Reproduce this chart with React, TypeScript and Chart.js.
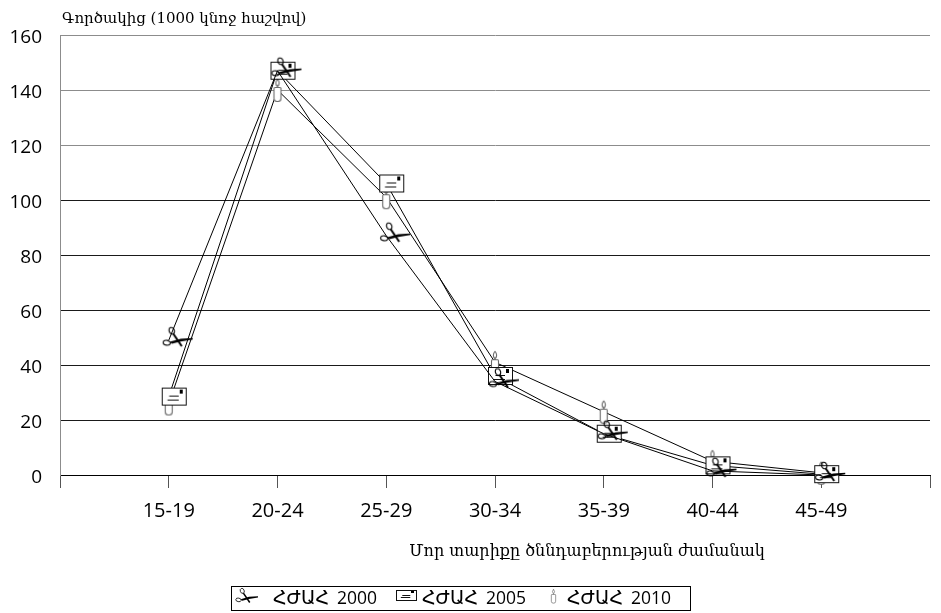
import { useEffect, useRef } from 'react';
import { Chart, registerables } from 'chart.js';

Chart.register(...registerables);

// Fertility rate per 1000 women, by mother's age group
const categories = ['15-19', '20-24', '25-29', '30-34', '35-39', '40-44', '45-49'];
const seriesLabels = ['ՀԺԱՀ 2000', 'ՀԺԱՀ 2005', 'ՀԺԱՀ 2010'];
const rates2000 = [49, 147, 87, 34, 15, 1.5, 0];
const rates2005 = [28.5, 147, 106, 36, 15, 3.5, 0.3];
const rates2010 = [26, 140, 101, 41, 23, 5, 0.8];
const yMin = 0;
const yMax = 160;
const yStep = 20;
const yAxisTitle = 'Գործակից (1000 կնոջ հաշվով)';
const xAxisTitle = 'Մոր տարիքը ծննդաբերության ժամանակ';

const WIDTH = 941;
const HEIGHT = 613;
const SANS = "'Open Sans', 'DejaVu Sans', sans-serif";
const ARM_SANS = "'DejaVu Sans', sans-serif";
const SERIF = "'DejaVu Serif', serif";

type Painter = (ctx: CanvasRenderingContext2D, x: number, y: number, k: number) => void;

// Scissors: pivot at (x, y), finger loops to the left, blades to the right
const drawScissors: Painter = (ctx, x, y, k) => {
  ctx.save();
  ctx.translate(x, y);
  ctx.scale(k, k);
  ctx.strokeStyle = '#000';
  ctx.fillStyle = '#000';
  ctx.lineWidth = 1.1;
  ctx.beginPath();
  ctx.ellipse(3, -9.5, 2.6, 3.4, -0.4, 0, Math.PI * 2);
  ctx.stroke();
  ctx.beginPath();
  ctx.ellipse(-2, 2.5, 3.6, 2.4, 0.2, 0, Math.PI * 2);
  ctx.stroke();
  ctx.beginPath();
  ctx.moveTo(1, 1.5);
  ctx.lineTo(12, -1.6);
  ctx.lineTo(24, -2.2);
  ctx.lineTo(24, -0.8);
  ctx.lineTo(12, 1.3);
  ctx.lineTo(3, 3.6);
  ctx.closePath();
  ctx.fill();
  ctx.lineWidth = 2;
  ctx.beginPath();
  ctx.moveTo(4.5, -6.5);
  ctx.lineTo(13, 6);
  ctx.stroke();
  ctx.restore();
};

// Envelope: white card with a stamp and two address lines
const drawEnvelope = (ctx: CanvasRenderingContext2D, left: number, top: number, w: number, h: number) => {
  ctx.save();
  ctx.fillStyle = '#fff';
  ctx.fillRect(left, top, w, h);
  ctx.strokeStyle = '#111';
  ctx.lineWidth = 1;
  ctx.strokeRect(left + 0.5, top + 0.5, w - 1, h - 1);
  ctx.fillStyle = '#000';
  ctx.fillRect(Math.round(left + w * 0.73), Math.round(top + h * 0.13), Math.max(2, Math.round(w * 0.13)), Math.max(2, Math.round(h * 0.2)));
  ctx.beginPath();
  const y1 = Math.round(top + h * 0.46) + 0.5;
  const y2 = Math.round(top + h * 0.64) + 0.5;
  ctx.moveTo(left + w * 0.3, y1);
  ctx.lineTo(left + w * 0.68, y1);
  ctx.moveTo(left + w * 0.23, y2);
  ctx.lineTo(left + w * 0.68, y2);
  ctx.stroke();
  ctx.restore();
};

// Candle: rounded body with a flame on top
const drawCandle: Painter = (ctx, x, y, k) => {
  ctx.save();
  ctx.translate(x, y);
  ctx.scale(k, k);
  ctx.strokeStyle = '#6a6a6a';
  ctx.fillStyle = '#fff';
  ctx.lineWidth = 1.1;
  ctx.beginPath();
  ctx.roundRect(-3.5, -2.5, 7, 14, [1, 1, 3, 3]);
  ctx.fill();
  ctx.stroke();
  ctx.beginPath();
  ctx.moveTo(0, -11);
  ctx.quadraticCurveTo(3.4, -6.5, 0, -3.5);
  ctx.quadraticCurveTo(-3.4, -6.5, 0, -11);
  ctx.fill();
  ctx.stroke();
  ctx.beginPath();
  ctx.moveTo(0, -3.5);
  ctx.lineTo(0, -2.5);
  ctx.stroke();
  ctx.restore();
};

const makeMarker = (w: number, h: number, paint: (ctx: CanvasRenderingContext2D, cx: number, cy: number) => void) => {
  const c = document.createElement('canvas');
  c.width = w;
  c.height = h;
  const ctx = c.getContext('2d')!;
  paint(ctx, w / 2, h / 2);
  return c;
};

const scissorsMarker = () => makeMarker(54, 30, (ctx, cx, cy) => drawScissors(ctx, cx, cy, 1));
const envelopeMarker = () => makeMarker(40, 22, (ctx, cx, cy) => drawEnvelope(ctx, cx - 7, cy - 9, 25, 18));
const candleMarker = () => makeMarker(14, 30, (ctx, cx, cy) => drawCandle(ctx, cx, cy, 1));

// Legend label: Armenian abbreviation followed by the year
const drawLegendLabel = (ctx: CanvasRenderingContext2D, text: string, x: number, baseline: number) => {
  const cut = text.indexOf(' ');
  const word = text.slice(0, cut);
  const year = text.slice(cut + 1);
  ctx.font = `19px ${ARM_SANS}`;
  ctx.fillText(word, x, baseline);
  const w = ctx.measureText(word).width;
  ctx.font = `17.5px ${SANS}`;
  ctx.fillText(year, x + w + 8, baseline);
};

const titlesAndLegend = {
  id: 'titlesAndLegend',
  afterDraw(chart: Chart) {
    const { ctx, chartArea } = chart;
    ctx.save();
    ctx.fillStyle = '#000';
    ctx.font = `15px ${SERIF}`;
    ctx.textAlign = 'left';
    ctx.textBaseline = 'alphabetic';
    ctx.fillText(yAxisTitle, chartArea.left + 2, chartArea.top - 12);
    ctx.font = `16px ${SERIF}`;
    ctx.textAlign = 'center';
    ctx.fillText(xAxisTitle, chartArea.left + 527, chartArea.bottom + 81);

    // legend box below the axis title
    const labels = chart.data.datasets.map((d) => String(d.label));
    ctx.strokeStyle = '#000';
    ctx.lineWidth = 1;
    ctx.strokeRect(231.5, 586.5, 459, 24);
    ctx.textAlign = 'left';
    ctx.textBaseline = 'alphabetic';
    const baseline = 604;
    drawScissors(ctx, 240, 598, 0.75);
    drawLegendLabel(ctx, labels[0], 273, baseline);
    drawEnvelope(ctx, 396, 590, 21, 11);
    drawLegendLabel(ctx, labels[1], 422, baseline);
    drawCandle(ctx, 553.5, 596, 0.62);
    drawLegendLabel(ctx, labels[2], 567, baseline);
    ctx.restore();
  },
};

export default function App() {
  const ref = useRef<HTMLCanvasElement | null>(null);

  useEffect(() => {
    if (!ref.current) return;
    const toPoints = (vals: number[]) => vals.map((v, i) => ({ x: i + 1, y: v }));
    const markers = [scissorsMarker(), envelopeMarker(), candleMarker()];
    const series = [rates2000, rates2005, rates2010];
    const chart = new Chart(ref.current, {
      type: 'line',
      data: {
        datasets: series.map((vals, i) => ({
          label: seriesLabels[i],
          data: toPoints(vals),
          borderColor: '#000',
          borderWidth: 1,
          pointStyle: markers[i] as any,
          pointRadius: 1,
          pointBorderWidth: 0,
          pointHoverRadius: 1,
          tension: 0,
          clip: false as any,
        })),
      },
      options: {
        animation: false,
        responsive: false,
        devicePixelRatio: 1,
        layout: { autoPadding: false, padding: { top: 35, right: 9, bottom: 93, left: 0 } },
        plugins: {
          legend: { display: false },
          tooltip: { enabled: false },
          title: { display: false },
        },
        scales: {
          x: {
            type: 'linear',
            min: 0,
            max: categories.length + 1,
            afterFit: (s: any) => {
              s.height = 45;
            },
            ticks: {
              stepSize: 1,
              autoSkip: false,
              maxRotation: 0,
              padding: 11,
              color: '#000',
              font: { family: SANS, size: 20 },
              callback: (v: any) => categories[Number(v) - 1] ?? '',
            },
            grid: {
              drawOnChartArea: false,
              drawTicks: true,
              tickLength: 13,
              color: '#555',
            },
            border: { display: true, color: '#000', width: 1 },
          },
          y: {
            type: 'linear',
            min: yMin,
            max: yMax,
            afterFit: (s: any) => {
              s.width = 60;
            },
            ticks: {
              stepSize: yStep,
              padding: 18,
              labelOffset: 3,
              color: '#000',
              font: { family: SANS, size: 19 },
            },
            grid: {
              drawTicks: false,
              color: (c: any) => (c.tick && c.tick.value >= 120 ? '#8c8c8c' : '#1a1a1a'),
            },
            border: { display: true, color: '#8c8c8c', width: 1 },
          },
        },
      },
      plugins: [titlesAndLegend],
    });
    return () => chart.destroy();
  }, []);

  return (
    <div style={{ position: 'fixed', left: 0, top: 0, width: WIDTH, height: HEIGHT, overflow: 'hidden', background: '#fff' }}>
      <canvas ref={ref} width={WIDTH} height={HEIGHT} style={{ display: 'block' }} />
    </div>
  );
}
